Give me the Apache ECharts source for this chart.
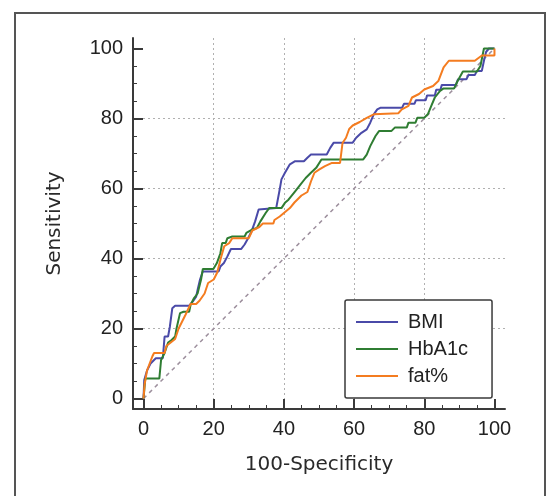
<!DOCTYPE html>
<html>
<head>
<meta charset="utf-8">
<script src="https://cdn.jsdelivr.net/npm/echarts@6/dist/echarts.min.js"></script>
<style>
html,body{margin:0;padding:0;background:#fff;}
#chart{width:546px;height:496px;}
</style>
</head>
<body>
<div id="chart"></div>
<script>
var seriesNames = ['BMI', 'HbA1c', 'fat%'];
var seriesColors = ['#4a4aa8', '#2f7d32', '#f47c20'];
var majorTicks = [0, 20, 40, 60, 80, 100];
var minorTicks = [5, 10, 15, 25, 30, 35, 45, 50, 55, 65, 70, 75, 85, 90, 95];
var diagonal = [[0, 0], [100, 100]];

// [100-Specificity, Sensitivity]
var bmi = [[0,0],[0.2,5.3],[1,8],[2,10],[3.5,11.5],[5.5,11.5],[6,17.7],[7,17.7],[7.5,20.5],[8.2,25.8],[9,26.5],[13,26.5],[14,27.7],[15,29.1],[15.4,31],[16.1,34],[16.9,36.3],[21.4,36.3],[21.9,37.7],[22.9,38.7],[23.9,40.6],[24.9,42.7],[27.8,42.7],[28.8,44],[29.8,45.8],[30.8,47.8],[31.8,50.6],[32.8,54],[33.3,54.4],[37.8,54.4],[38.8,59.7],[39.3,62.6],[40.3,64.5],[41.7,66.9],[43.2,67.8],[45.7,67.8],[46.7,68.8],[47.7,69.7],[52.2,69.7],[53.2,71.6],[54.2,73.1],[59.6,73.1],[60.6,74.5],[62.1,75.9],[63.6,76.9],[64.6,78.8],[65.6,81.2],[66.6,82.6],[67.6,83.1],[73.7,83.1],[74.2,84.2],[77.2,84.2],[77.6,85.2],[80.4,85.2],[80.8,86.6],[83,86.6],[83.4,88.2],[84.6,88.2],[85,89.6],[89,89.6],[89.6,91.2],[92,91.2],[92.6,92.4],[94.4,92.4],[95,93.6],[96.4,93.6],[97,96.5],[97.6,99],[98.4,100],[100,100]];
var hba1c = [[0,0],[0.5,5.7],[4.5,5.7],[5,11],[6,13],[7,16],[8,16.7],[9,17.7],[9.4,20],[10.4,24.4],[11.4,24.8],[13,24.8],[13.4,26.7],[14.4,28.7],[15.4,30],[16.4,34],[16.9,37],[19.9,37],[20.9,38.7],[21.9,41.5],[22.4,44.4],[23.4,44.4],[23.9,45.8],[25.3,46.3],[28.8,46.3],[29.3,47.3],[30.8,48.2],[32.3,48.7],[33.3,50.6],[34.8,53],[35.8,54.4],[39.3,54.4],[40.3,55.9],[41.3,56.8],[43.2,59.2],[44.7,61.1],[46.2,63],[47.7,64.5],[49.2,65.9],[50.7,68.3],[62.6,68.3],[63.6,69.7],[64.6,72.1],[66.1,75],[67.1,76.4],[70.6,76.4],[71.6,77.4],[75,77.4],[75.5,78.8],[77.5,78.8],[78,80.2],[80,80.2],[81,81.2],[82,83.6],[83,86],[84.5,87.9],[85.5,88.6],[88.5,88.6],[89.5,90.7],[91,93.4],[95,93.4],[96,95],[97,100],[100,100]];
var fat = [[0,0],[0.3,4],[1,8],[2.5,12],[3,13],[6,13],[6.5,15],[9,17],[10,20],[11,22],[12,24],[13.4,27],[15,27],[16,28],[17.4,30],[18.4,33],[20,34],[21,36],[22,40],[23,43.5],[24.4,44.4],[25.3,45.8],[30,45.8],[31,48],[33,49],[34,50],[37,50],[37.3,51],[38.8,52],[40,53],[41.7,54.4],[43,56],[45,58],[46.7,59],[47.7,62],[48.7,64.5],[50,65.4],[51.7,66.4],[53.7,67.3],[56,67.3],[56.7,73],[57.7,74.5],[58.6,77],[59.6,78],[61.6,79],[63.6,80.2],[65.6,81.2],[72.6,81.5],[73.6,82.6],[75.5,83.6],[76.5,86],[78.5,87],[80,88.3],[82.5,89.3],[84,90.7],[85.5,94.6],[87,96.5],[94.4,96.5],[96.4,98],[100,98],[100,100]];

var chart = echarts.init(document.getElementById('chart'));
var axisColor = '#3a3a3a';
var labelFont = 'Liberation Sans, Arial, sans-serif';
var nameFont = 'DejaVu Sans, sans-serif';

function mainAxis(name, gap) {
	return {
		type: 'value', min: -3, max: 103,
		name: name, nameLocation: 'middle', nameGap: gap,
		nameTextStyle: {fontFamily: nameFont, fontSize: 20, color: '#2a2a2a'},
		axisLine: {show: true, onZero: false, lineStyle: {color: axisColor, width: 2}},
		axisTick: {show: true, inside: true, length: 10, customValues: majorTicks, lineStyle: {color: axisColor, width: 2}},
		axisLabel: {customValues: majorTicks, fontFamily: labelFont, fontSize: 20, color: '#222', margin: 10},
		splitLine: {show: true, showMinLine: false, showMaxLine: false, lineStyle: {color: '#b0b0b0', width: 1, type: [2, 3]}}
	};
}
function minorAxis(pos) {
	return {
		type: 'value', min: -3, max: 103, position: pos,
		axisLine: {show: false, onZero: false},
		axisTick: {show: true, inside: true, length: 4, customValues: minorTicks, lineStyle: {color: axisColor, width: 1}},
		axisLabel: {show: false},
		splitLine: {show: false}
	};
}

var curves = [bmi, hba1c, fat];
var series = [{
	type: 'line', data: diagonal, symbol: 'none', silent: true, z: 1,
	lineStyle: {color: '#9d8f9d', width: 1.5, type: [4, 4]}
}];
for (var i = 0; i < curves.length; i++) {
	series.push({
		name: seriesNames[i], type: 'line', data: curves[i], symbol: 'none', z: 2 + i,
		color: seriesColors[i],
		lineStyle: {color: seriesColors[i], width: 2}
	});
}

var option = {
	animation: false,
	backgroundColor: '#fff',
	grid: {left: 133, right: 41, top: 38, bottom: 87},
	xAxis: [mainAxis('100-Specificity', 46), minorAxis('bottom')],
	yAxis: [mainAxis('Sensitivity', 68), minorAxis('left')],
	legend: {
		data: seriesNames, orient: 'vertical', left: 345, top: 300,
		padding: [12, 24, 12, 10], itemWidth: 42, itemHeight: 20, itemGap: 7,
		itemStyle: {opacity: 0},
		lineStyle: {width: 2},
		borderColor: axisColor, borderWidth: 1.5, borderRadius: 2, backgroundColor: '#fff',
		textStyle: {fontFamily: labelFont, fontSize: 20, color: '#222', padding: [0, 0, 0, 5]}
	},
	graphic: [{
		type: 'rect', silent: true, z: 100,
		shape: {x: 15, y: 13, width: 530, height: 500},
		style: {fill: 'none', stroke: '#555', lineWidth: 2}
	}],
	series: series
};
chart.setOption(option);
</script>
</body>
</html>
